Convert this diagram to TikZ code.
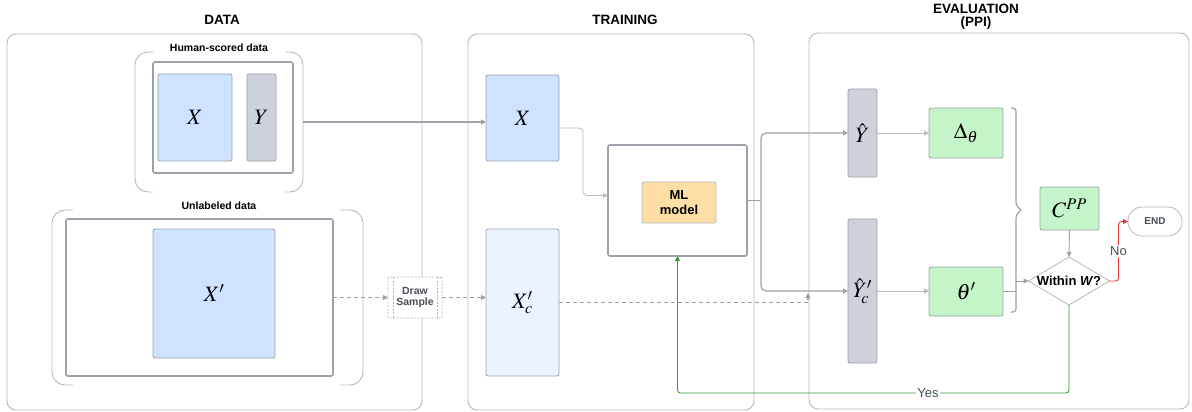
\documentclass[tikz,border=0pt]{standalone}
\usepackage{mathptmx}
\usepackage{fontspec}
\setmainfont{Liberation Sans}
\usetikzlibrary{arrows.meta,calc,shapes.geometric}

\definecolor{panelc}{HTML}{B8B8B8}
\definecolor{framec}{HTML}{9CA1A9}
\definecolor{xblue}{HTML}{CFE2FF}
\definecolor{xcblue}{HTML}{EAF3FF}
\definecolor{ygrey}{HTML}{CDD2DA}
\definecolor{pgreen}{HTML}{C3F5C8}
\definecolor{mlorange}{HTML}{FDDFA6}
\definecolor{linec}{HTML}{9CA1A9}
\definecolor{lightline}{HTML}{B8BCC2}
\definecolor{yesgreen}{HTML}{3C9A3C}
\definecolor{nored}{HTML}{E53935}
\definecolor{txtgrey}{HTML}{4A4F57}

% place a node by its corners: name, style, x1, y1, x2, y2, text
\newcommand{\placebox}[7]{%
  \node[#2, minimum width={(#5-#3)*1pt}, minimum height={(#6-#4)*1pt}]
    (#1) at ({(#3+#5)/2},{(#4+#6)/2}) {#7};}
\newcommand{\symlbl}[1]{\fontsize{22}{24}\selectfont$#1$}

\begin{document}
\begin{tikzpicture}[x=1pt,y=-1pt,
  panel/.style={draw=panelc, line width=0.9pt, rounded corners=9pt, inner sep=0pt, outer sep=0pt},
  frame/.style={draw=framec, line width=1.6pt, rounded corners=2pt, fill=white, inner sep=0pt, outer sep=0pt},
  block/.style={draw=framec, line width=0.8pt, rounded corners=2pt, inner sep=0pt, outer sep=0pt},
  ghost/.style={inner sep=0pt, outer sep=0pt},
  title/.style={font=\fontsize{13.5}{15}\selectfont\bfseries, align=center},
  grouplbl/.style={font=\fontsize{10.5}{12}\selectfont\bfseries, fill=white, inner sep=2pt},
  tip/.style={-{Triangle[length=5pt,width=5pt]}},
  conn/.style={draw=linec, line width=1.3pt, tip},
  thinconn/.style={draw=lightline, line width=0.8pt, tip},
  dashconn/.style={draw=linec, line width=1.4pt, dash pattern=on 4pt off 3pt, tip},
  bracket/.style={draw=panelc, line width=0.9pt, rounded corners=13pt},
]
\useasboundingbox (0,0) rectangle (1192,412);

% ---------- panels ----------
\placebox{pdata}{panel}{7}{34}{422}{410}{}
\placebox{ptrain}{panel}{468}{34}{754}{410}{}
\placebox{peval}{panel}{809}{33}{1189}{409}{}
\node[title] (tdata) at (222,20) {DATA};
\node[title] (ttrain) at (625,20) {TRAINING};
\node[title] (teval) at (976,17) {EVALUATION\\[-2pt](PPI)};

% ---------- DATA ----------
\placebox{hsg}{ghost}{135}{52}{303}{192}{}
\draw[bracket] (153,52) -- (135,52) -- (135,192) -- (153,192);
\draw[bracket] (285,52) -- (303,52) -- (303,192) -- (285,192);
\node[grouplbl] (hslbl) at (219,48) {Human-scored data};
\placebox{hsin}{frame}{153}{62}{293}{173}{}
\placebox{dx}{block, fill=xblue}{158}{74}{232}{161}{\symlbl{X}}
\placebox{dy}{block, fill=ygrey}{247}{74}{276}{161}{\symlbl{Y}}

\placebox{ulg}{ghost}{52}{210}{363}{385}{}
\draw[bracket] (73,210) -- (52,210) -- (52,385) -- (73,385);
\draw[bracket] (340,210) -- (363,210) -- (363,385) -- (340,385);
\node[grouplbl] (ullbl) at (219,206) {Unlabeled data};
\placebox{ulin}{frame}{66}{219}{333}{376}{}
\placebox{dxp}{block, fill=xblue}{153}{229}{275}{358}{\symlbl{X'}}

% draw-sample step (predefined-process look)
\placebox{ds}{block, draw=framec!80, fill=white, rounded corners=1pt, dash pattern=on 2pt off 1.5pt,
  font=\fontsize{10.5}{12}\selectfont\bfseries, text=txtgrey, align=center}{388}{277}{442}{318}{Draw\\[-1pt]Sample}
\draw[framec!80, line width=0.6pt, dash pattern=on 2pt off 1.5pt]
  ([xshift=5pt]ds.north west) -- ([xshift=5pt]ds.south west)
  ([xshift=-5pt]ds.north east) -- ([xshift=-5pt]ds.south east);

% ---------- TRAINING ----------
\placebox{tx}{block, fill=xblue}{486}{75}{559}{161}{\symlbl{X}}
\placebox{txc}{block, fill=xcblue}{486}{229}{559}{376}{\symlbl{X_c'}}
\placebox{mlo}{frame}{608}{145}{747}{256}{}
\placebox{ml}{block, draw=framec!70, fill=mlorange, align=center,
  font=\fontsize{13}{14.5}\selectfont\bfseries}{642}{182}{716}{223}{ML\\model}

% ---------- EVALUATION ----------
\placebox{yh}{block, fill=ygrey}{848}{89}{877}{177}{\symlbl{\hat{Y}}}
\placebox{yhc}{block, fill=ygrey}{848}{219}{877}{363}{\symlbl{\hat{Y}_{\!c}'}}
\placebox{dth}{block, fill=pgreen}{929}{108}{1003}{158}{\symlbl{\Delta_\theta}}
\placebox{thp}{block, fill=pgreen}{929}{267}{1003}{316}{\symlbl{\theta'}}
\placebox{cpp}{block, fill=pgreen}{1040}{187}{1099}{230}{\symlbl{C^{PP}}}
\node[diamond, draw=panelc, line width=0.8pt, inner sep=0pt, outer sep=0pt,
  minimum width=81pt, minimum height=48pt, fill=white] (dia) at (1069,281) {};
\node[font=\fontsize{13}{14}\selectfont\bfseries, inner sep=0pt] (diat) at (dia.center) {Within \textit{W}?};
\placebox{endn}{block, draw=panelc, rounded corners=14pt, fill=white,
  font=\fontsize{10}{11}\selectfont\bfseries, text=txtgrey}{1128}{207}{1182}{236}{END}

% curly brace gathering the two estimates
\coordinate (br) at (1016,210);
\draw[draw=framec, line width=1.2pt, rounded corners=3pt]
  (1011,108) -- (1016,108) -- (1016,205) -- (1021,210);
\draw[draw=framec, line width=1.2pt, rounded corners=3pt]
  (1011,312) -- (1016,312) -- (1016,215) -- (1021,210);

% ---------- connectors ----------
\draw[conn] (hsg.east) -- (hsg.east -| tx.west);
\draw[dashconn] (ulin.east) -- (ds.west);
\draw[dashconn] (ds.east) -- (ds.east -| txc.west);
\draw[thinconn, rounded corners=4pt] ([yshift=-10pt]tx.east) -- ++(24,0) |- ([yshift=5pt]mlo.west);

\coordinate (split) at ($(mlo.east)+(14,0)$);
\draw[conn, -] (mlo.east) -- (split);
\draw[conn, rounded corners=5pt] (split) |- (yh.west);
\draw[conn, rounded corners=5pt] (split) |- (yhc.west);

\coordinate (dj) at (808,293);
\draw[dashconn] (txc.east) -| (dj);

\draw[thinconn] (yh.east) -- (yh.east -| dth.west);
\draw[thinconn] (yhc.east) -- (yhc.east -| thp.west);
\draw[draw=linec, line width=0.9pt] (thp.east) -- (thp.east -| br);
\draw[draw=linec, line width=0.9pt, tip] (dia.west -| br) -- (dia.west);
\draw[draw=linec, line width=0.9pt, tip] (cpp.south) -- (dia.north);

\draw[draw=nored, line width=0.9pt, rounded corners=3pt, -{Triangle[length=5pt,width=5pt]}]
  (dia.east) -- ++(9,0) |- (endn.west)
  node[pos=0.25, fill=white, inner sep=1.5pt, text=txtgrey, font=\fontsize{13}{14}\selectfont] (nolbl) {No};

\coordinate (yesrow) at (0,393);
\draw[draw=yesgreen, line width=0.9pt, rounded corners=3pt, -{Triangle[length=5pt,width=5pt]}]
  (dia.south) |- (yesrow -| mlo.south)
  node[pos=0.68, fill=white, inner sep=1.5pt, text=txtgrey, font=\fontsize{13}{14}\selectfont] (yeslbl) {Yes}
  -- (mlo.south);

\end{tikzpicture}
\end{document}
